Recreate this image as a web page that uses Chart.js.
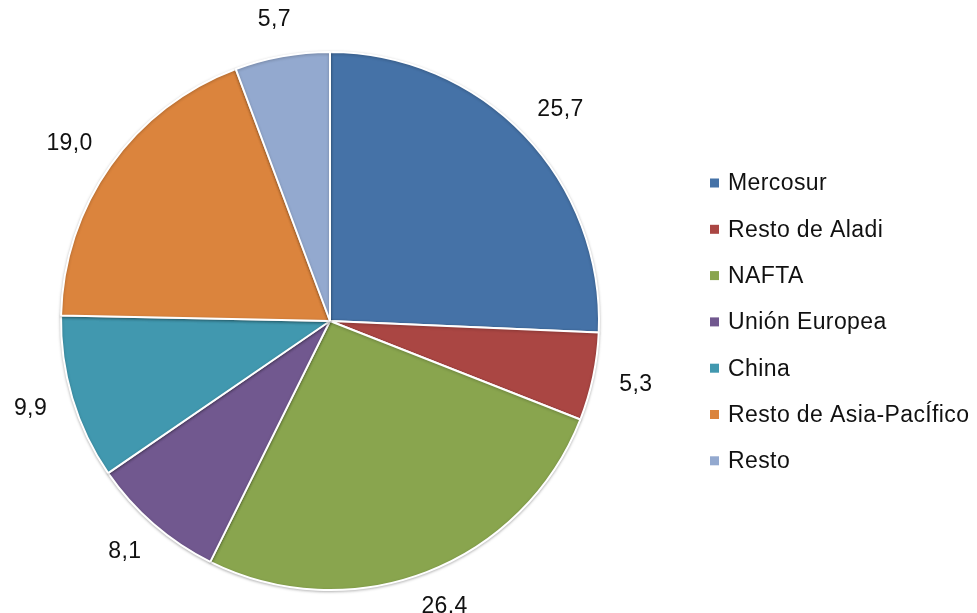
<!DOCTYPE html>
<html>
<head>
<meta charset="utf-8">
<script src="https://cdn.jsdelivr.net/npm/chart.js@4.4.0/dist/chart.umd.min.js"></script>
<style>
    html, body { margin: 0; padding: 0; background: #fff; }
    #wrap { width: 977px; height: 613px; position: relative; }
</style>
</head>
<body>
<div id="wrap"><canvas id="pie-chart" width="977" height="613"></canvas></div>
<script>
const categories = ["Mercosur", "Resto de Aladi", "NAFTA", "Unión Europea", "China", "Resto de Asia-PacÍfico", "Resto"];
const shares = [25.7, 5.3, 26.4, 8.1, 9.9, 19.0, 5.7];
const sliceColors = ["#4572a7", "#aa4643", "#89a54e", "#71588f", "#4198af", "#db843d", "#93a9cf"];

const FONT = "'Liberation Sans', Arial, sans-serif";

function fmt(v) {
    return v.toFixed(1).replace(".", ",");
}

function setFont(ctx) {
    ctx.font = "23px " + FONT;
    ctx.letterSpacing = "0.4px";
    ctx.fillStyle = "#111111";
}

// labels outside each slice, box pushed away from the edge
const outerLabels = {
    id: "outerLabels",
    afterDatasetsDraw(chart) {
        const ctx = chart.ctx;
        const meta = chart.getDatasetMeta(0);
        ctx.save();
        setFont(ctx);
        ctx.textAlign = "center";
        ctx.textBaseline = "middle";
        meta.data.forEach(function (arc, i) {
            const txt = fmt(shares[i]);
            const w = ctx.measureText(txt).width;
            const h = 20;
            const mid = (arc.startAngle + arc.endAngle) / 2;
            const dx = Math.cos(mid), dy = Math.sin(mid);
            const d = arc.outerRadius + 27;
            const x = arc.x + dx * d + dx * w / 2;
            const y = arc.y + dy * d + dy * h / 2;
            ctx.fillText(txt, x, y);
        });
        ctx.restore();
    }
};

// legend on the right
const sideLegend = {
    id: "sideLegend",
    afterDraw(chart) {
        const ctx = chart.ctx;
        const x0 = 710, y0 = 183, step = 46.3;
        ctx.save();
        ctx.textBaseline = "middle";
        ctx.textAlign = "left";
        categories.forEach(function (c, i) {
            const y = y0 + i * step;
            ctx.fillStyle = sliceColors[i];
            ctx.fillRect(x0, y - 4.5, 9, 9);
            setFont(ctx);
            ctx.fillText(c, x0 + 18, y + 1);
        });
        ctx.restore();
    }
};

// soft shadow under the pie
const pieShadow = {
    id: "pieShadow",
    beforeDatasetsDraw(chart) {
        chart.ctx.save();
        chart.ctx.shadowColor = "rgba(0,0,0,0.25)";
        chart.ctx.shadowBlur = 3;
        chart.ctx.shadowOffsetY = 1;
    },
    afterDatasetsDraw(chart) {
        chart.ctx.restore();
    }
};

new Chart(document.getElementById("pie-chart"), {
    type: "pie",
    data: {
        labels: categories,
        datasets: [{
            data: shares,
            backgroundColor: sliceColors,
            borderColor: "#ffffff",
            borderWidth: 2
        }]
    },
    options: {
        responsive: false,
        animation: false,
        layout: {
            padding: { left: 60, right: 377, top: 51, bottom: 22 }
        },
        plugins: {
            legend: { display: false },
            tooltip: { enabled: false }
        }
    },
    plugins: [pieShadow, outerLabels, sideLegend]
});
</script>
</body>
</html>
